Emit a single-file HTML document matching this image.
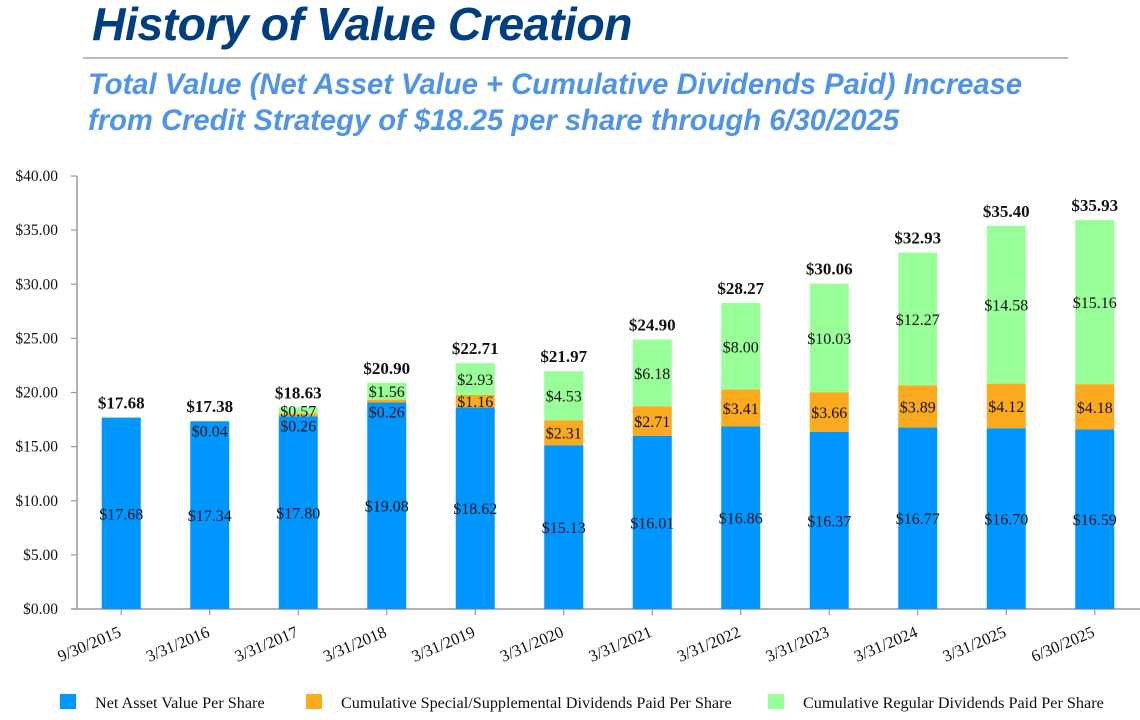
<!DOCTYPE html>
<html><head><meta charset="utf-8"><style>
body{margin:0;width:1140px;height:720px;background:#fff;overflow:hidden;font-family:"Liberation Serif",serif;}
#title{position:absolute;left:92px;top:-3px;font:italic bold 46.4px "Liberation Sans",sans-serif;color:#003f7f;letter-spacing:-0.5px;}
#rule{position:absolute;left:83px;top:57px;width:985px;height:2px;background:#bbb;}
#sub{position:absolute;left:88px;top:67px;font:italic bold 29.2px/36px "Liberation Sans",sans-serif;color:#5094e8;white-space:nowrap;}
svg{position:absolute;left:0;top:0;}
</style></head><body>
<div id="title">History of Value Creation</div>
<div id="rule"></div>
<div id="sub">Total Value (Net Asset Value + Cumulative Dividends Paid) Increase<br>from Credit Strategy of $18.25 per share through 6/30/2025</div>
<svg id="chart" width="1140" height="720"></svg>
<script>
const categories=["9/30/2015","3/31/2016","3/31/2017","3/31/2018","3/31/2019","3/31/2020","3/31/2021","3/31/2022","3/31/2023","3/31/2024","3/31/2025","6/30/2025"];
const navValues=[17.68,17.34,17.80,19.08,18.62,15.13,16.01,16.86,16.37,16.77,16.70,16.59];
const specialValues=[0,0.04,0.26,0.26,1.16,2.31,2.71,3.41,3.66,3.89,4.12,4.18];
const regularValues=[0,0,0.57,1.56,2.93,4.53,6.18,8.00,10.03,12.27,14.58,15.16];
const totalLabels=["$17.68","$17.38","$18.63","$20.90","$22.71","$21.97","$24.90","$28.27","$30.06","$32.93","$35.40","$35.93"];
const yTicks=[0,5,10,15,20,25,30,35,40];

const svg=document.getElementById('chart');
const NS='http://www.w3.org/2000/svg';
const x0=77,x1=1140,yBase=609,yTop=176,yMax=40;
const slot=88.5,barW=39;
const y=v=>yBase-(v/yMax)*(yBase-yTop);
const xc=i=>x0+slot*(i+0.5);
function mk(tag,attrs,txt){const e=document.createElementNS(NS,tag);for(const k in attrs)e.setAttribute(k,attrs[k]);if(txt!==undefined)e.textContent=txt;svg.appendChild(e);return e;}
const fmt=v=>'$'+v.toFixed(2);

let ax=mk('line',{x1:x0,y1:yTop,x2:x0,y2:yBase,stroke:'#999','stroke-width':1.5});


let bx=mk('line',{x1:x0-6,y1:yBase,x2:x1,y2:yBase,stroke:'#999','stroke-width':1.5});


yTicks.forEach(t=>{
  const tk=mk('line',{x1:x0-6,y1:y(t),x2:x0,y2:y(t),stroke:'#999','stroke-width':1.2});
  
  
  const l=mk('text',{x:58,y:y(t)+5,'text-anchor':'end','font-size':15.5,fill:'#111'},fmt(t));
  
  
});
categories.forEach((c,i)=>{
  const cx=xc(i);
  const tk=mk('line',{x1:cx,y1:yBase,x2:cx,y2:yBase+6,stroke:'#999','stroke-width':1.2});
  
  
  const l=mk('text',{x:cx+1,y:yBase+27,'text-anchor':'end','font-size':16.5,fill:'#111',transform:`rotate(-23 ${cx+1} ${yBase+27})`},c);
  
  
  const n=navValues[i],s=specialValues[i],r=regularValues[i];
  const bl=cx-barW/2;
  const b1=mk('rect',{x:bl,y:y(n),width:barW,height:yBase-y(n),fill:'#0096ff'});
  
  
  const b2=mk('rect',{x:bl,y:y(n+s),width:barW,height:y(n)-y(n+s),fill:'#fbaa1e'});
  
  
  const b3=mk('rect',{x:bl,y:y(n+s+r),width:barW,height:y(n+s)-y(n+s+r),fill:'#99ff99'});
  
  
  const t1=mk('text',{x:cx,y:(y(n)+yBase)/2+6,'text-anchor':'middle','font-size':16,fill:'#111'},fmt(n));
  
  
  if(s>0){
    const ys=s<1?y(n)+15:(y(n)+y(n+s))/2+6;
    const t2=mk('text',{x:cx,y:ys,'text-anchor':'middle','font-size':16,fill:'#111'},fmt(s));
    
    
  }
  if(r>0){
    const t3=mk('text',{x:cx,y:(y(n+s)+y(n+s+r))/2+6,'text-anchor':'middle','font-size':16,fill:'#111'},fmt(r));
    
    
  }
  const tt=mk('text',{x:cx,y:y(n+s+r)-9,'text-anchor':'middle','font-size':17,'font-weight':'bold',fill:'#111'},totalLabels[i]);
  
  
});
const legend=[["Net Asset Value Per Share","#0096ff",60],["Cumulative Special/Supplemental Dividends Paid Per Share","#fbaa1e",306],["Cumulative Regular Dividends Paid Per Share","#99ff99",768]];
legend.forEach(([t,c,lx])=>{
  const sq=mk('rect',{x:lx,y:694,width:16,height:15,fill:c});
  
  
  const lt=mk('text',{x:lx+35,y:708,'font-size':16.2,fill:'#111'},t);
  
  
});
</script>
</body></html>
